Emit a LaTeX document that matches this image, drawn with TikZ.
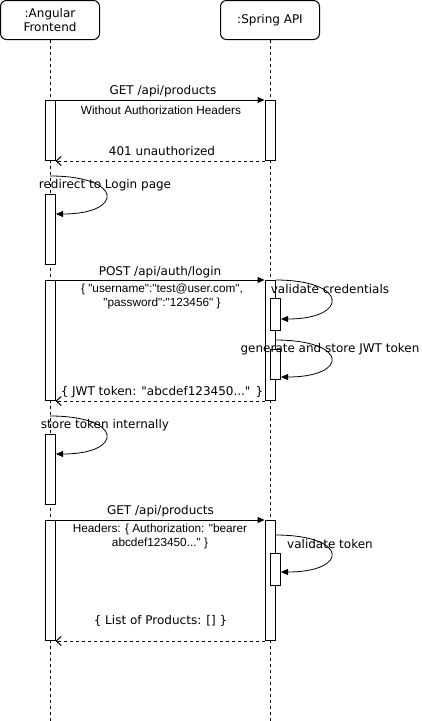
\documentclass[tikz,border=0pt]{standalone}
\usepackage{fontspec}
\setmainfont{DejaVu Sans}
\newfontfamily\bodyfont{Liberation Sans}
\usetikzlibrary{arrows.meta}

\begin{document}
\begin{tikzpicture}[x=1pt,y=-1pt,line width=1pt,
  actor/.style={draw,rounded corners=6pt,minimum width=99pt,minimum height=39pt,
    inner sep=0pt,align=center,font=\fontsize{12}{14}\selectfont},
  act/.style={draw,fill=white,minimum width=10pt,inner sep=0pt,anchor=north},
  life/.style={dash pattern=on 3pt off 3pt,line width=0.8pt},
  msg/.style={-{Triangle[length=7pt,width=6pt]}},
  ret/.style={dash pattern=on 3pt off 3pt,-{Straight Barb[length=5pt,width=9pt]}},
  selfmsg/.style={line width=0.8pt,-{Triangle[length=7pt,width=6pt]}},
  lbl/.style={inner sep=0pt,font=\fontsize{12}{14}\selectfont},
  body/.style={inner sep=0pt,align=center,font=\bodyfont\fontsize{11.8}{14}\selectfont}]
  \useasboundingbox (0,0) rectangle (422,721);

  % participants and lifelines
  \node[actor] (fe) at (50,20) {:Angular\\Frontend};
  \node[actor] (api) at (270,20) {:Spring API};
  \coordinate (feend) at (50,721);
  \coordinate (apiend) at (270,721);
  \draw[life] (fe) -- (feend);
  \draw[life] (api) -- (apiend);

  % activation bars
  \node[act,minimum height=60pt] (fa1) at (50,100) {};
  \node[act,minimum height=60pt] (sa1) at (270,100) {};
  \node[act,minimum height=70pt] (fa2) at (50,194) {};
  \node[act,minimum height=120pt] (fa3) at (50,280) {};
  \node[act,minimum height=120pt] (sa3) at (270,280) {};
  \node[act,minimum height=32pt] (sv1) at (275,298) {};
  \node[act,minimum height=30pt] (sv2) at (275,349) {};
  \node[act,minimum height=70pt] (fa4) at (50,434) {};
  \node[act,minimum height=120pt] (fa5) at (50,520) {};
  \node[act,minimum height=120pt] (sa5) at (270,520) {};
  \node[act,minimum height=32pt] (sv3) at (275,553) {};

  % first request
  \draw[msg] (fa1.north east) -- (sa1.north west);
  \node[lbl] (get1) at (163,91) {GET /api/products};
  \node[body] (nohdr) at (161,110) {Without Authorization Headers};
  \draw[ret] (sa1.south west) -- (fa1.south east);
  \node[lbl] (unauth) at (162,151) {401 unauthorized};

  % redirect
  \coordinate (rds) at (50,176);
  \coordinate (rde) at (56,214);
  \draw[selfmsg] (rds) .. controls (124,176) and (124,214) .. (rde);
  \node[lbl] (redir) at (105,185) {redirect to Login page};

  % login
  \draw[msg] (fa3.north east) -- (sa3.north west);
  \node[lbl] (post) at (160,272) {POST /api/auth/login};
  \node[body] (cred) at (162,296) {\{ "username":"test@user.com",\\"password":"123456" \}};
  \coordinate (vce) at (281,319);
  \draw[selfmsg] (sa3.north east) .. controls (349,280) and (349,319) .. (vce);
  \node[lbl] (valcred) at (330,289) {validate credentials};
  \coordinate (gts) at (275,340);
  \coordinate (gte) at (281,377);
  \draw[selfmsg] (gts) .. controls (349,340) and (349,377) .. (gte);
  \node[lbl] (gen) at (330,349) {generate and store JWT token};
  \draw[ret] (sa3.south west) -- (fa3.south east);
  \node[lbl] (jwt) at (162,392) {\{ JWT token: \textquotedbl abcdef123450...\textquotedbl{} \}};

  % store token
  \coordinate (sts) at (50,416);
  \coordinate (ste) at (56,454);
  \draw[selfmsg] (sts) .. controls (124,416) and (124,454) .. (ste);
  \node[lbl] (store) at (105,425) {store token internally};

  % authorized request
  \draw[msg] (fa5.north east) -- (sa5.north west);
  \node[lbl] (get2) at (160.5,511) {GET /api/products};
  \node[body] (hdr) at (160,536) {Headers: \{ Authorization: "bearer\\abcdef123450..." \}};
  \coordinate (vts) at (275,535);
  \coordinate (vte) at (281,572);
  \draw[selfmsg] (vts) .. controls (349,535) and (349,572) .. (vte);
  \node[lbl] (valtok) at (330,544) {validate token};
  \draw[ret] (sa5.south west) -- (fa5.south east);
  \node[lbl] (list) at (160.5,621) {\{ List of Products: [] \}};
\end{tikzpicture}
\end{document}
